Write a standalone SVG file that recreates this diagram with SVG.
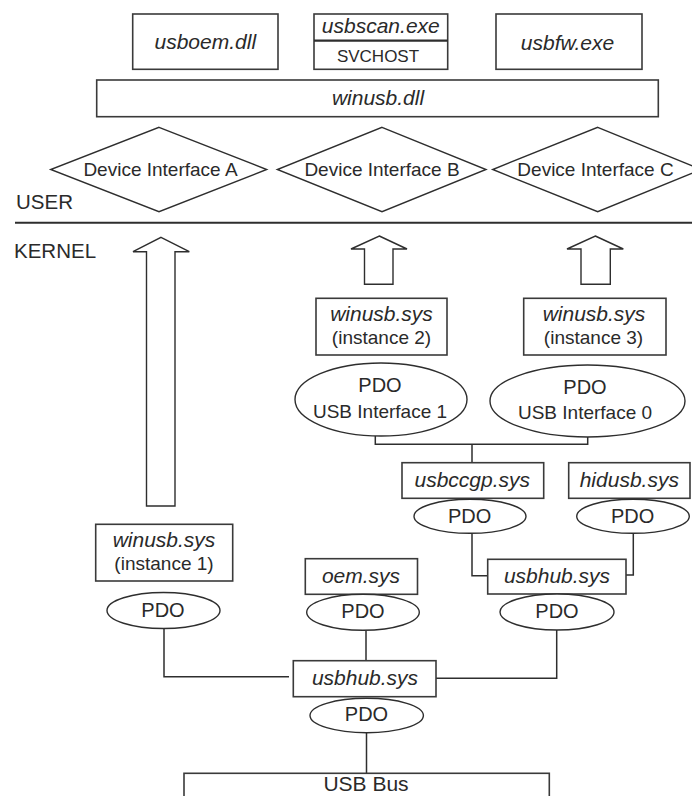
<svg xmlns="http://www.w3.org/2000/svg" width="692" height="796" viewBox="0 0 692 796">
<style>
  .box { fill: #fff; stroke: #3a3a3a; stroke-width: 1.6; }
  .shape { fill: #fff; stroke: #2e2e2e; stroke-width: 1.4; }
  .conn { fill: none; stroke: #2e2e2e; stroke-width: 1.5; }
  text { font-family: "Liberation Sans", Arial, sans-serif; fill: #2a2a2a; text-anchor: middle; }
  .it { font-style: italic; font-size: 21px; }
  .n { font-size: 19px; }
  .pdo { font-size: 20px; }
  .lab { font-size: 20.5px; text-anchor: start; }
</style>
<rect width="692" height="796" fill="#fff"/>

<g id="connectors">
  <path class="conn" d="M375.3,436 V444.3 H587.7 V437"/>
  <path class="conn" d="M472,444.3 V462.7"/>
  <path class="conn" d="M472,533.3 V575.7 H487.7"/>
  <path class="conn" d="M633.3,533.3 V575 H626"/>
  <path class="conn" d="M164,628.5 V676.7 H289"/>
  <path class="conn" d="M366,630.5 V660.7"/>
  <path class="conn" d="M556.7,630 V678.3 H436"/>
  <path class="conn" d="M366.5,732.7 V773.3"/>
  <polygon id="arrowA" class="shape" points="161,237.3 189.3,251.7 175,251.7 175,506 146.5,506 146.5,251.7 133,251.7"/>
  <polygon id="arrowB" class="shape" points="379.3,236 407,249 393,249 393,284.3 364.5,284.3 364.5,249 351,249"/>
  <polygon id="arrowC" class="shape" points="595.3,236 623.3,249 610.3,249 610.3,284.3 581,284.3 581,249 567,249"/>
</g>

<g id="usboem">
  <rect class="box" x="132.7" y="14" width="145.3" height="55.3"/>
  <text class="it" x="205.3" y="49">usboem.dll</text>
</g>
<g id="usbscan">
  <rect class="box" x="314" y="14" width="133.7" height="55.3"/>
  <line x1="314" y1="40.7" x2="447.7" y2="40.7" stroke="#2e2e2e" stroke-width="2.2"/>
  <text class="it" x="380.8" y="33">usbscan.exe</text>
  <text x="378" y="62" font-size="17px">SVCHOST</text>
</g>
<g id="usbfw">
  <rect class="box" x="496" y="14" width="146" height="55.3"/>
  <text class="it" x="567.5" y="49.5">usbfw.exe</text>
</g>
<g id="winusbdll">
  <rect class="box" x="96.7" y="80" width="561.6" height="36.7"/>
  <text class="it" x="378" y="105">winusb.dll</text>
</g>

<g id="ifaceA">
  <polygon class="shape" points="159,127.3 266.7,169.5 159,211.7 50.7,169.5"/>
  <text class="n" x="160.5" y="176">Device Interface A</text>
</g>
<g id="ifaceB">
  <polygon class="shape" points="382,127.3 486,169.5 382,211.7 277.3,169.5"/>
  <text class="n" x="382" y="176">Device Interface B</text>
</g>
<g id="ifaceC">
  <polygon class="shape" points="597.7,127.3 701,169.5 597.7,211.7 492.7,169.5"/>
  <text class="n" x="595.5" y="176">Device Interface C</text>
</g>

<g id="boundary">
  <line x1="15" y1="222.7" x2="692" y2="222.7" stroke="#2e2e2e" stroke-width="2"/>
  <text class="lab" x="16" y="209.3">USER</text>
  <text class="lab" x="14" y="258.3">KERNEL</text>
</g>

<g id="winusb2">
  <rect class="box" x="316" y="298.3" width="131" height="56.7"/>
  <text class="it" x="381.5" y="321">winusb.sys</text>
  <text class="n" x="381.5" y="344">(instance 2)</text>
</g>
<g id="winusb3">
  <rect class="box" x="523.7" y="298.3" width="142.3" height="56.7"/>
  <text class="it" x="594" y="321">winusb.sys</text>
  <text class="n" x="593.5" y="344">(instance 3)</text>
</g>
<g id="pdoIf1">
  <ellipse class="shape" cx="381" cy="399.5" rx="86" ry="36.5"/>
  <text class="pdo" x="380" y="392.3">PDO</text>
  <text class="n" x="380" y="418.3">USB Interface 1</text>
</g>
<g id="pdoIf0">
  <ellipse class="shape" cx="587.5" cy="401" rx="97.5" ry="36"/>
  <text class="pdo" x="585" y="394">PDO</text>
  <text class="n" x="585" y="419">USB Interface 0</text>
</g>

<g id="usbccgp">
  <rect class="box" x="402" y="462.7" width="141.7" height="35.6"/>
  <text class="it" x="472.3" y="486.7">usbccgp.sys</text>
</g>
<g id="pdoCcgp">
  <ellipse class="shape" cx="470" cy="516.3" rx="56" ry="17"/>
  <text class="pdo" x="469.7" y="522.5">PDO</text>
</g>
<g id="hidusb">
  <rect class="box" x="568.7" y="462.7" width="121.3" height="35.6"/>
  <text class="it" x="629.3" y="486.7">hidusb.sys</text>
</g>
<g id="pdoHid">
  <ellipse class="shape" cx="633" cy="516.3" rx="56.3" ry="17"/>
  <text class="pdo" x="632.7" y="522.5">PDO</text>
</g>

<g id="usbhub2">
  <rect class="box" x="487.7" y="559.3" width="138.3" height="34.7"/>
  <text class="it" x="557" y="582.7">usbhub.sys</text>
</g>
<g id="pdoHub2">
  <ellipse class="shape" cx="557" cy="612" rx="57" ry="18"/>
  <text class="pdo" x="557" y="618">PDO</text>
</g>

<g id="winusb1">
  <rect class="box" x="95.7" y="524.3" width="137" height="56.7"/>
  <text class="it" x="164" y="546.7">winusb.sys</text>
  <text class="n" x="164" y="570">(instance 1)</text>
</g>
<g id="pdoW1">
  <ellipse class="shape" cx="163.5" cy="610.5" rx="56.5" ry="18"/>
  <text class="pdo" x="163" y="617">PDO</text>
</g>

<g id="oem">
  <rect class="box" x="305.3" y="558.7" width="112.2" height="35.6"/>
  <text class="it" x="361" y="582.5">oem.sys</text>
</g>
<g id="pdoOem">
  <ellipse class="shape" cx="363" cy="612.3" rx="56.3" ry="18"/>
  <text class="pdo" x="363" y="618">PDO</text>
</g>

<g id="usbhub1">
  <rect class="box" x="293.3" y="660.7" width="142.7" height="36"/>
  <text class="it" x="365" y="685">usbhub.sys</text>
</g>
<g id="pdoHub1">
  <ellipse class="shape" cx="366.7" cy="715.5" rx="56.7" ry="17.2"/>
  <text class="pdo" x="366.5" y="721">PDO</text>
</g>

<g id="usbbus">
  <rect class="box" x="184" y="773.3" width="365.3" height="26"/>
  <text x="366" y="790.7" font-size="21px">USB Bus</text>
</g>
</svg>
